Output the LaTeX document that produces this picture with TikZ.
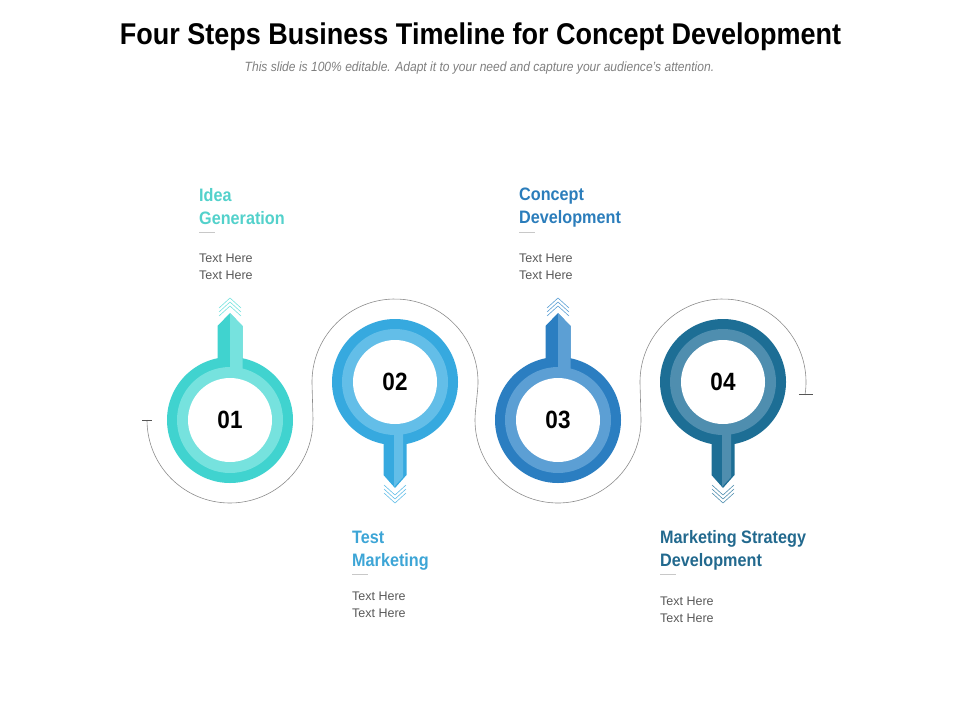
\documentclass[tikz,border=0pt]{standalone}
\usepackage{fontspec}
\setmainfont{Liberation Sans}
\newfontfamily\narrowfont{Liberation Sans}[FakeStretch=0.9]
\usepackage{xcolor}
\usepackage{tikz}
\usetikzlibrary{positioning, calc}

\definecolor{tealD}{HTML}{40D3CF}
\definecolor{tealL}{HTML}{76E2DE}
\definecolor{tealT}{HTML}{53D1CB}
\definecolor{skyD}{HTML}{36A9DF}
\definecolor{skyL}{HTML}{63BEE8}
\definecolor{skyT}{HTML}{3DA5D6}
\definecolor{blueD}{HTML}{2B7EC1}
\definecolor{blueL}{HTML}{5C9FD4}
\definecolor{blueT}{HTML}{2B7DBB}
\definecolor{navyD}{HTML}{1D6E95}
\definecolor{navyL}{HTML}{4F8EAF}
\definecolor{navyT}{HTML}{22698E}
\definecolor{textgray}{HTML}{595959}
\definecolor{subgray}{HTML}{7F7F7F}
\definecolor{guidegray}{HTML}{8C8C8C}
\definecolor{tickgray}{HTML}{555555}
\definecolor{rulegray}{HTML}{C8C8C8}

\begin{document}
\begin{tikzpicture}[
    x=1pt, y=1pt,
    ringout/.style={circle, minimum size=126pt, inner sep=0pt},
    ringin/.style={circle, minimum size=106pt, inner sep=0pt},
    ringhole/.style={circle, fill=white, minimum size=84pt, inner sep=0pt, font=\narrowfont\bfseries\fontsize{25}{25}\selectfont},
    steptitle/.style={anchor=north west, inner sep=0pt, align=left, font=\narrowfont\bfseries\fontsize{18}{23}\selectfont},
    bodytext/.style={anchor=north west, inner sep=0pt, align=left, text=textgray, font=\fontsize{12.5}{17}\selectfont},
    guide/.style={draw=guidegray, line width=0.6pt},
    endtick/.style={draw=tickgray, line width=1pt},
    chevron/.style={line width=0.6pt},
    dashmark/.style={draw=rulegray, line width=0.8pt}
]
\useasboundingbox (0,0) rectangle (960,-720);

% Title
\node[anchor=base, font=\narrowfont\bfseries\fontsize{30}{30}\selectfont] (title) at (480.5,-44) {Four Steps Business Timeline for Concept Development};
\node[anchor=base, text=subgray, font=\narrowfont\itshape\fontsize{13.4}{15}\selectfont] (subtitle) at (479.5,-71) {This slide is 100\% editable. Adapt it to your need and capture your audience’s attention.};

% Step 01 (stem up)
\node[ringout, fill=tealD] (c1) at (230,-420) {};
\fill[tealD] ([xshift=-12.5]c1.center) -- ++(0,94) -- ++(12.5,13) -- ++(12.5,-13) -- ++(0,-94) -- cycle;
\node[ringin, fill=tealL] (r1) at (c1) {};
\fill[tealL] (c1.center) -- ++(0,107) -- ++(12.5,-13) -- ++(0,-94) -- cycle;
\node[ringhole] (n1) at (c1) {01};
\draw[chevron, tealL] ([shift={(-11,104)}]c1.center) -- ++(11,10) -- ++(11,-10) ++(-22,4) -- ++(11,10) -- ++(11,-10) ++(-22,4) -- ++(11,10) -- ++(11,-10);

% Step 02 (stem down)
\node[ringout, fill=skyD] (c2) at (395,-382) {};
\fill[skyD] ([xshift=-11.5]c2.center) -- ++(0,-93) -- ++(11.5,-13) -- ++(11.5,13) -- ++(0,93) -- cycle;
\node[ringin, fill=skyL] (r2) at (c2) {};
\fill[skyL] ([xshift=-1]c2.center) -- ++(0,-105) -- ++(9,10) -- ++(0,95) -- cycle;
\node[ringhole] (n2) at (c2) {02};
\draw[chevron, skyL] ([shift={(-11,-103)}]c2.center) -- ++(11,-10) -- ++(11,10) ++(-22,-4) -- ++(11,-10) -- ++(11,10) ++(-22,-4) -- ++(11,-10) -- ++(11,10);

% Step 03 (stem up)
\node[ringout, fill=blueD] (c3) at (558,-420) {};
\fill[blueD] ([xshift=-12.5]c3.center) -- ++(0,94) -- ++(12.5,13) -- ++(12.5,-13) -- ++(0,-94) -- cycle;
\node[ringin, fill=blueL] (r3) at (c3) {};
\fill[blueL] (c3.center) -- ++(0,107) -- ++(12.5,-13) -- ++(0,-94) -- cycle;
\node[ringhole] (n3) at (c3) {03};
\draw[chevron, blueL] ([shift={(-11,104)}]c3.center) -- ++(11,10) -- ++(11,-10) ++(-22,4) -- ++(11,10) -- ++(11,-10) ++(-22,4) -- ++(11,10) -- ++(11,-10);

% Step 04 (stem down)
\node[ringout, fill=navyD] (c4) at (723,-382) {};
\fill[navyD] ([xshift=-11.5]c4.center) -- ++(0,-93) -- ++(11.5,-13) -- ++(11.5,13) -- ++(0,93) -- cycle;
\node[ringin, fill=navyL] (r4) at (c4) {};
\fill[navyL] ([xshift=-1]c4.center) -- ++(0,-105) -- ++(9,10) -- ++(0,95) -- cycle;
\node[ringhole] (n4) at (c4) {04};
\draw[chevron, navyL] ([shift={(-11,-103)}]c4.center) -- ++(11,-10) -- ++(11,10) ++(-22,-4) -- ++(11,-10) -- ++(11,10) ++(-22,-4) -- ++(11,-10) -- ++(11,10);

% Guide line round the circles
\draw[guide] ($(c1.center)+(180:83)$) coordinate (g0)
    arc[start angle=180, end angle=361.6, radius=83]
    -- ($(c2.center)+(181.6:83)$) arc[start angle=181.6, end angle=-5.7, radius=83]
    -- ($(c3.center)+(174.3:83)$) arc[start angle=174.3, end angle=361.6, radius=83]
    -- ($(c4.center)+(181.6:83)$) arc[start angle=181.6, end angle=-9, radius=83] coordinate (g1);
\draw[endtick] ([xshift=-5]g0) -- ([xshift=5]g0);
\draw[endtick] ([xshift=-6]g1) -- ([xshift=8]g1);

% Step labels
\node[steptitle, text=tealT] (lab1) at (199,-188) {Idea\\Generation};
\draw[dashmark] ([yshift=-44]lab1.north west) -- ++(16,0);
\node[bodytext, below=66pt of lab1.north west, anchor=north west] (txt1) {Text Here\\Text Here};

\node[steptitle, text=skyT] (lab2) at (352,-531) {Test\\Marketing};
\draw[dashmark] ([yshift=-43]lab2.north west) -- ++(16,0);
\node[bodytext, below=61pt of lab2.north west, anchor=north west] (txt2) {Text Here\\Text Here};

\node[steptitle, text=blueT] (lab3) at (519,-188) {Concept\\Development};
\draw[dashmark] ([yshift=-44]lab3.north west) -- ++(16,0);
\node[bodytext, below=66pt of lab3.north west, anchor=north west] (txt3) {Text Here\\Text Here};

\node[steptitle, text=navyT] (lab4) at (660,-530) {Marketing Strategy\\Development};
\draw[dashmark] ([yshift=-44]lab4.north west) -- ++(16,0);
\node[bodytext, below=67pt of lab4.north west, anchor=north west] (txt4) {Text Here\\Text Here};

\end{tikzpicture}
\end{document}
